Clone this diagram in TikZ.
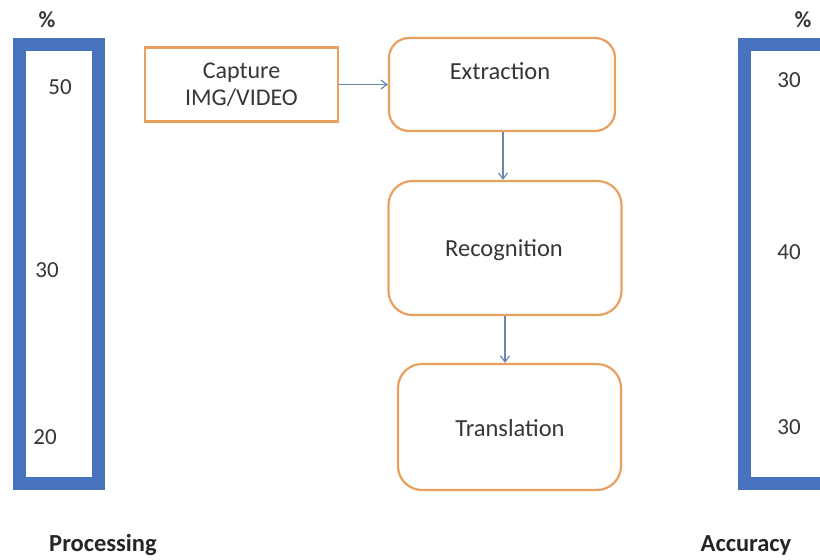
\documentclass[tikz,border=0pt]{standalone}
\usepackage{fontspec}
\setmainfont{Carlito}
\usetikzlibrary{arrows.meta}
\definecolor{barblue}{RGB}{70,114,190}
\definecolor{boxorange}{RGB}{232,160,95}
\definecolor{arrowblue}{RGB}{105,135,175}
\definecolor{txt}{RGB}{55,55,55}
\tikzset{
  bar/.style={draw=barblue, line width=13pt},
  flowbox/.style={draw=boxorange, line width=2.2pt, fill=white, text=txt, font=\fontsize{24}{27}\selectfont, align=center, inner sep=0pt},
  roundbox/.style={flowbox, rounded corners=20pt},
  conn/.style={draw=arrowblue, line width=1.2pt, -{Straight Barb[length=6pt,width=9pt]}},
  num/.style={text=txt, font=\fontsize{23}{27}\selectfont},
  caption/.style={text=black!85, font=\bfseries\fontsize{24.5}{28}\selectfont},
  lbl/.style={text=txt, font=\fontsize{24.5}{28}\selectfont},
}
\begin{document}
\begin{tikzpicture}[x=1pt,y=-1pt]
\useasboundingbox (0,0) rectangle (820,560);
\clip (0,0) rectangle (820,560);
\fill[white] (0,0) rectangle (820,560);
% bars
\draw[bar] (19.5,44.5) rectangle (98.5,483.5);
\draw[bar] (744.5,44.5) rectangle (850,483.5);
% bar labels
\node[num] (pl) at (47,20) {\bfseries\%};
\node[num] (pr) at (803,20) {\bfseries\%};
\node[num] (l50) at (60,87) {50};
\node[num] (l30) at (47,270) {30};
\node[num] (l20) at (45,437) {20};
\node[num] (r30a) at (789,80) {30};
\node[num] (r40) at (789,252) {40};
\node[num] (r30b) at (789,427) {30};
\node[caption] (proc) at (103,545) {Processing};
\node[caption] (acc) at (746,545) {Accuracy};
% flow
\node[flowbox, minimum width=193pt, minimum height=74pt] (cap) at (241.5,84.5) {Capture\\IMG/VIDEO};
\node[roundbox, minimum width=226pt, minimum height=93pt] (ext) at (502,84.5) {};
\node[lbl] (extl) at (500,71) {Extraction};
\node[roundbox, rounded corners=24pt, minimum width=233pt, minimum height=134pt] (rec) at (505,248) {};
\node[lbl] (recl) at (504,250) {Recognition};
\node[roundbox, rounded corners=24pt, minimum width=223pt, minimum height=126pt] (tra) at (509.5,427) {};
\node[lbl] (tral) at (510,428) {Translation};
\draw[conn] (cap.east) -- (ext.west |- cap.east);
\draw[conn] ([xshift=1pt]ext.south) -- ([xshift=1pt]ext.south |- rec.north);
\draw[conn] (rec.south) -- (rec.south |- tra.north);
\end{tikzpicture}
\end{document}
